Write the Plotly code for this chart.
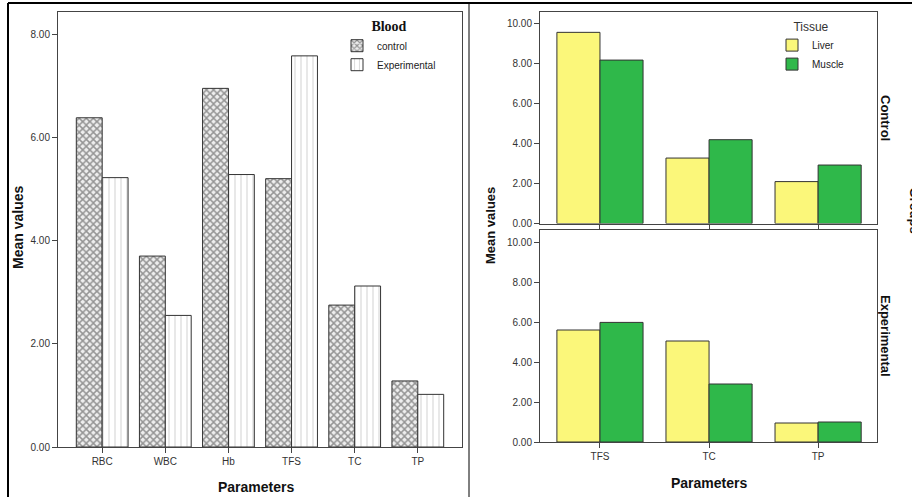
import plotly.graph_objects as go

W, H = 912, 497

blood_params = ["RBC", "WBC", "Hb", "TFS", "TC", "TP"]
blood_control = [6.38, 3.70, 6.95, 5.20, 2.75, 1.28]
blood_experimental = [5.22, 2.55, 5.28, 7.58, 3.12, 1.02]

tissue_params = ["TFS", "TC", "TP"]
ctrl_liver = [9.58, 3.28, 2.10]
ctrl_muscle = [8.19, 4.20, 2.93]
exp_liver = [5.60, 5.05, 0.95]
exp_muscle = [5.98, 2.90, 1.00]

left_ticks = [0, 2, 4, 6, 8]
right_ticks = [0, 2, 4, 6, 8, 10]

# the rendered page appears ~491 px tall in the screenshot; map target pixels accordingly
VIS_H = 491.0


def px(x):
    return x / W


def py(y):
    return 1 - y / VIS_H


YELLOW = "#FBF77A"
GREEN = "#2FB84A"
EDGE = "#333333"
FONT = "Liberation Sans, Arial, sans-serif"

fig = go.Figure()

# Left: Blood
fig.add_trace(go.Bar(
    x=blood_params, y=blood_control, name="control",
    xaxis="x", yaxis="y", offset=-0.41, width=0.41,
    marker=dict(color="white", line=dict(color=EDGE, width=1),
                pattern=dict(shape="x", fgcolor="#3a3a3a", bgcolor="#eeeeee",
                             size=5, solidity=0.5)),
    legend="legend",
))
fig.add_trace(go.Bar(
    x=blood_params, y=blood_experimental, name="Experimental",
    xaxis="x", yaxis="y", offset=0.0, width=0.41,
    marker=dict(color="white", line=dict(color=EDGE, width=1),
                pattern=dict(shape="|", fgcolor="#999999", bgcolor="white",
                             size=6, solidity=0.15)),
    legend="legend",
))

# Right: Tissue, control panel
fig.add_trace(go.Bar(
    x=tissue_params, y=ctrl_liver, name="Liver",
    xaxis="x2", yaxis="y2", offset=-0.395, width=0.395,
    marker=dict(color=YELLOW, line=dict(color=EDGE, width=1)),
    legend="legend2",
))
fig.add_trace(go.Bar(
    x=tissue_params, y=ctrl_muscle, name="Muscle",
    xaxis="x2", yaxis="y2", offset=0.0, width=0.395,
    marker=dict(color=GREEN, line=dict(color=EDGE, width=1)),
    legend="legend2",
))
# Right: experimental panel
fig.add_trace(go.Bar(
    x=tissue_params, y=exp_liver, name="Liver", showlegend=False,
    xaxis="x3", yaxis="y3", offset=-0.395, width=0.395,
    marker=dict(color=YELLOW, line=dict(color=EDGE, width=1)),
    legend="legend2",
))
fig.add_trace(go.Bar(
    x=tissue_params, y=exp_muscle, name="Muscle", showlegend=False,
    xaxis="x3", yaxis="y3", offset=0.0, width=0.395,
    marker=dict(color=GREEN, line=dict(color=EDGE, width=1)),
    legend="legend2",
))

axis_common = dict(showgrid=False, zeroline=False, showline=True, mirror=True,
                   linecolor="#444444", linewidth=1, ticks="outside", ticklen=5,
                   tickcolor="#444444", tickfont=dict(family=FONT, size=10, color="#333333"))

fig.update_layout(
    width=W, height=H, margin=dict(l=0, r=0, t=0, b=0),
    paper_bgcolor="white", plot_bgcolor="white",
    barmode="overlay", hovermode=False,
    font=dict(family=FONT, color="#222222"),
    xaxis=dict(domain=[px(58), px(462)], anchor="y", type="category",
               range=[-0.7, 5.7], **axis_common),
    yaxis=dict(domain=[py(447), py(12)], anchor="x", range=[0, 8.43],
               tickvals=left_ticks, tickformat=".2f", **axis_common),
    xaxis2=dict(domain=[px(540), px(877)], anchor="y2", type="category",
                range=[-0.55, 2.54], showticklabels=False, **axis_common),
    yaxis2=dict(domain=[py(223.5), py(12)], anchor="x2", range=[0, 10.6],
                tickvals=right_ticks, tickformat=".2f", **axis_common),
    xaxis3=dict(domain=[px(540), px(877)], anchor="y3", type="category",
                range=[-0.55, 2.54], **axis_common),
    yaxis3=dict(domain=[py(442), py(230)], anchor="x3", range=[0, 10.6],
                tickvals=right_ticks, tickformat=".2f", **axis_common),
    legend=dict(x=px(337), y=py(13), xanchor="left", yanchor="top",
                bgcolor="rgba(0,0,0,0)",
                title=dict(text="<b>Blood</b>", side="top center",
                           font=dict(family="Liberation Serif, Times New Roman, serif", size=14, color="#111111")),
                font=dict(family=FONT, size=10, color="#222222"),
                itemwidth=30, tracegroupgap=0),
    legend2=dict(x=px(772), y=py(15), xanchor="left", yanchor="top",
                 bgcolor="rgba(0,0,0,0)",
                 title=dict(text="Tissue", side="top center",
                            font=dict(family=FONT, size=12, color="#333333")),
                 font=dict(family=FONT, size=10, color="#222222"),
                 itemwidth=30, tracegroupgap=0),
)

annotations = [
    dict(text="<b>Mean values</b>", x=px(18), y=py(228), textangle=-90,
         font=dict(family=FONT, size=14, color="#111111")),
    dict(text="<b>Parameters</b>", x=px(256), y=py(487),
         font=dict(family=FONT, size=14, color="#111111")),
    dict(text="<b>Mean values</b>", x=px(490), y=py(225), textangle=-90,
         font=dict(family=FONT, size=13, color="#111111")),
    dict(text="<b>Parameters</b>", x=px(709), y=py(483),
         font=dict(family=FONT, size=14, color="#111111")),
    dict(text="<b>Control</b>", x=px(886), y=py(118), textangle=90,
         font=dict(family=FONT, size=13, color="#111111")),
    dict(text="<b>Experimental</b>", x=px(886), y=py(336), textangle=90,
         font=dict(family=FONT, size=13, color="#111111")),
]
for a in annotations:
    a.update(xref="paper", yref="paper", showarrow=False, xanchor="center", yanchor="middle")
annotations.append(dict(text="<b>Groups</b>", x=px(905), y=py(210), textangle=90,
                        xanchor="left", yanchor="middle", xref="paper", yref="paper",
                        showarrow=False, font=dict(family=FONT, size=13, color="#111111")))
fig.update_layout(annotations=annotations)

shapes = [
    dict(type="line", x0=px(8), x1=1, y0=py(3), y1=py(3), line=dict(color="black", width=2)),
    dict(type="line", x0=px(8), x1=px(8), y0=py(3), y1=-0.05, line=dict(color="black", width=2)),
    dict(type="line", x0=px(469), x1=px(469), y0=py(3), y1=-0.05, line=dict(color="black", width=1)),
]
for s in shapes:
    s.update(xref="paper", yref="paper")
fig.update_layout(shapes=shapes)

fig.write_html("out.html", config={"displayModeBar": False},
               post_script="document.body.style.margin='0';document.body.style.overflow='hidden';")
